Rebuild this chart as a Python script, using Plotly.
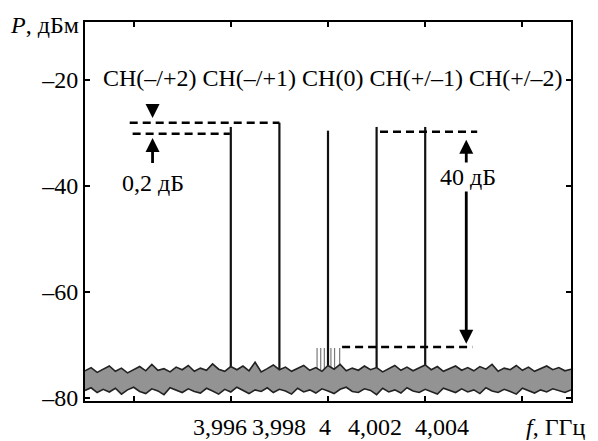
import numpy as np
import plotly.graph_objects as go

# ---------------- data ----------------
line_freqs = [3.996, 3.998, 4.000, 4.002, 4.004]          # GHz
line_peaks = [-28.9, -28.1, -29.6, -28.9, -28.9]          # dBm

comb_freqs = [3.99955, 3.99970, 3.99985, 4.00012, 4.00027, 4.00048]
comb_peaks = [-70.6, -70.6, -70.6, -70.6, -70.6, -70.6]

noise_upper = [
    -74.9, -74.3, -75.2, -74.6, -74.0, -75.0, -74.4, -75.3, -74.7, -74.1,
    -74.9, -73.7, -74.8, -74.5, -75.1, -74.2, -74.7, -73.9, -75.0, -74.4,
    -74.8, -73.6, -74.6, -75.0, -74.1, -74.7, -74.0, -74.9, -73.3, -75.1,
    -74.5, -73.8, -74.7, -74.2, -75.0, -74.4, -73.9, -74.8, -74.3, -75.0,
    -73.9, -74.6, -73.7, -74.9, -74.4, -74.8, -74.0, -74.7, -74.3, -75.1,
    -74.5, -73.9, -74.8, -74.2, -74.9, -74.4, -73.8, -74.7, -74.1, -75.0,
    -74.5, -74.0, -74.8, -74.3, -74.9, -74.1, -74.6, -73.7, -75.0, -74.4,
    -74.7, -73.9, -74.8, -74.2, -75.0, -74.5, -74.0, -74.7, -74.3, -74.9, -74.6]
noise_lower = [
    -78.6, -78.1, -79.0, -78.4, -78.9, -78.2, -79.3, -78.5, -78.0, -78.8,
    -79.2, -78.3, -78.7, -79.4, -78.1, -78.6, -79.0, -78.3, -78.8, -79.1,
    -78.2, -78.7, -79.3, -78.4, -78.9, -78.0, -78.6, -79.2, -78.5, -78.8,
    -78.1, -79.0, -78.4, -78.7, -79.3, -78.2, -78.9, -78.5, -79.1, -78.3,
    -78.7, -79.2, -78.4, -78.0, -78.8, -79.0, -78.3, -78.6, -79.4, -78.2,
    -78.9, -78.5, -79.1, -78.1, -78.7, -79.0, -78.4, -78.8, -79.3, -78.2,
    -78.6, -79.0, -78.3, -78.9, -78.5, -79.2, -78.1, -78.7, -79.0, -78.4,
    -78.8, -79.3, -78.2, -78.6, -79.1, -78.5, -78.9, -78.3, -78.7, -79.0, -78.5]
noise_freqs = np.linspace(3.990, 4.010, len(noise_upper))

y_tick_vals = [-20, -40, -60, -80]
y_tick_text = ["–20", "–40", "–60", "–80"]
x_tick_vals = [3.992, 3.996, 4.000, 4.004, 4.008]
x_label_text = ["3,996", "3,998", "4", "4,002", "4,004"]
channel_text = "CH(–/+2) CH(–/+1) CH(0) CH(+/–1) CH(+/–2)"

# ---------------- layout helpers ----------------
FONT = "Liberation Serif"
x_label_pos = [3.99555, 3.99798, 3.99988, 4.00194, 4.00470]
noise_top = -75.5

fig = go.Figure()

# spectral lines
lx, ly = [], []
for f, p in zip(line_freqs, line_peaks):
    lx += [f, f, None]
    ly += [noise_top, p, None]
fig.add_trace(go.Scatter(x=lx, y=ly, mode="lines",
                         line=dict(color="#111111", width=2.2), hoverinfo="skip"))

# comb of small spurs
cx, cy = [], []
for f, p in zip(comb_freqs, comb_peaks):
    cx += [f, f, None]
    cy += [noise_top, p, None]
fig.add_trace(go.Scatter(x=cx, y=cy, mode="lines",
                         line=dict(color="#7a7a7a", width=1.2), hoverinfo="skip"))

# noise floor band
fig.add_trace(go.Scatter(x=noise_freqs, y=noise_lower, mode="lines",
                         line=dict(color="#222222", width=1.6), hoverinfo="skip"))
fig.add_trace(go.Scatter(x=noise_freqs, y=noise_upper, mode="lines",
                         fill="tonexty", fillcolor="#939393",
                         line=dict(color="#222222", width=1.6), hoverinfo="skip"))

# dashed reference levels
dash_segments = [
    (3.99184, 3.998, -28.1),
    (3.99196, 3.99596, -30.2),
    (4.00214, 4.00614, -29.8),
    (4.00058, 4.00594, -70.4),
]
for x0, x1, yv in dash_segments:
    fig.add_shape(type="line", x0=x0, x1=x1, y0=yv, y1=yv, xref="x", yref="y",
                  line=dict(color="black", width=2.5, dash="8px,5px"))

# arrows
def arrow(x, y_tail, y_tip):
    fig.add_annotation(x=x, y=y_tip, ax=x, ay=y_tail, xref="x", yref="y",
                       axref="x", ayref="y", text="", showarrow=True,
                       arrowhead=2, arrowsize=1.0, arrowwidth=2.8,
                       arrowcolor="black")

arrow(3.99278, -25.1, -27.2)
arrow(3.99278, -36.0, -31.0)
arrow(4.00569, -35.9, -31.3)
arrow(4.00569, -40.8, -69.8)

txt_font = dict(family=FONT, size=24, color="black")
fig.add_annotation(x=3.99278, y=-39.4, text="0,2 дБ", showarrow=False,
                   xref="x", yref="y", font=txt_font)
fig.add_annotation(x=4.00575, y=-38.3, text="40 дБ", showarrow=False,
                   xref="x", yref="y", font=txt_font)
fig.add_annotation(x=4.00017, y=-19.6, text=channel_text, showarrow=False,
                   xref="x", yref="y", font=txt_font)

# custom x labels
for xp, t in zip(x_label_pos, x_label_text):
    fig.add_annotation(x=xp, y=0, xref="x", yref="paper", yshift=-26,
                       text=t, showarrow=False, font=txt_font, yanchor="middle")

# axis titles
fig.add_annotation(x=0, y=1.0, xref="paper", yref="paper", xshift=-41, yshift=-3,
                   text="<i>P</i>, дБм", showarrow=False, font=txt_font,
                   xanchor="center", yanchor="middle")
fig.add_annotation(x=1.0, y=0, xref="paper", yref="paper", yshift=-26,
                   xanchor="right", text="<i>f</i>, ГГц", showarrow=False,
                   font=txt_font, yanchor="middle", xshift=16)

# the page body adds an 8px offset, so the figure is 8px smaller
fig.update_layout(
    width=590, height=433,
    margin=dict(l=77, r=27, t=14, b=40),
    paper_bgcolor="white", plot_bgcolor="white",
    showlegend=False,
    font=dict(family=FONT, size=24, color="black"),
    xaxis=dict(range=[3.990, 4.010], tickvals=x_tick_vals, showticklabels=False,
               ticks="inside", ticklen=5, tickwidth=2, tickcolor="black",
               showline=True, linewidth=2, linecolor="black", mirror="ticks",
               showgrid=False, zeroline=False),
    yaxis=dict(range=[-80.6, -9.1], tickvals=y_tick_vals, ticktext=y_tick_text,
               ticks="inside", ticklen=5, tickwidth=2, tickcolor="black",
               showline=True, linewidth=2, linecolor="black", mirror="ticks",
               showgrid=False, zeroline=False,
               tickfont=dict(family=FONT, size=24, color="black")),
)

fig.write_html("out.html")
